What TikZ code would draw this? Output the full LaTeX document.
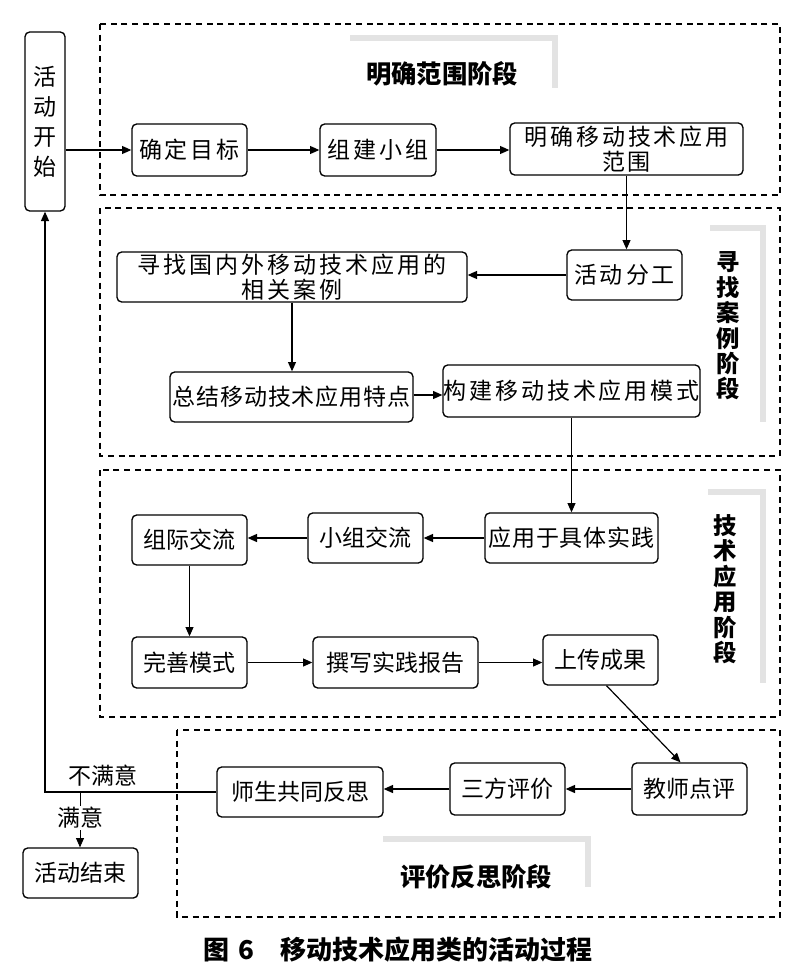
\documentclass[tikz,border=0pt]{standalone}
\usepackage{fontspec}
\setmainfont{Noto Sans CJK SC}
\newfontfamily\cjkw{Noto Sans CJK SC}[LetterSpace=13]
\newfontfamily\cjkm{Noto Sans CJK SC}[LetterSpace=4]
\usetikzlibrary{arrows.meta,calc}
\tikzset{
  box/.style={draw, line width=1pt, rounded corners=3.5pt, inner sep=0pt, align=center,
    font=\fontsize{17.25pt}{18.75pt}\selectfont},
  wide/.style={font=\cjkw\fontsize{17.25pt}{18.75pt}\selectfont},
  mid/.style={font=\cjkm\fontsize{17.25pt}{18.75pt}\selectfont},
  arr/.style={-{Triangle[length=7pt,width=6pt]}, line width=0.9pt},
  stage/.style={draw, dash pattern=on 4.5pt off 3.5pt, line width=0.9pt},
  ttl/.style={font=\fontsize{19pt}{20pt}\selectfont\bfseries, align=center, inner sep=0pt},
  vttl/.style={font=\fontsize{17.5pt}{19.1pt}\selectfont\bfseries, align=center, inner sep=0pt},
  shd/.style={draw=gray!22, line width=4.5pt},
  lbl/.style={font=\fontsize{17.25pt}{18.75pt}\selectfont, inner sep=1pt}
}
\begin{document}
\begin{tikzpicture}[x=0.75pt,y=-0.75pt]
\useasboundingbox (0,0) rectangle (800,971);

% title shadows (scan)
\draw[shd] (350,38) -- (555,38) -- (555,88);
\draw[shd] (710,228) -- (763,228) -- (763,422);
\draw[shd] (708,492) -- (763,492) -- (763,683);
\draw[shd] (383,839) -- (588,839) -- (588,887);

% stage frames
\draw[stage] (100,24) rectangle (780,195);
\draw[stage] (100,208) rectangle (780,456);
\draw[stage] (100,470) rectangle (780,717);
\draw[stage] (177,730) rectangle (780,917);

% stage titles
\node[ttl] (t1) at (442,74) {明确范围阶段};
\node[vttl] (t2) at (728,326) {寻\\找\\案\\例\\阶\\段};
\node[vttl] (t3) at (725,589) {技\\术\\应\\用\\阶\\段};
\node[ttl] (t4) at (476,877) {评价反思阶段};

% nodes
\node[box, font=\fontsize{17.25pt}{22.5pt}\selectfont, minimum width=30pt, minimum height=134.25pt] (start) at (45,121.5) {活\\动\\开\\始};
\node[box, wide, minimum width=86.25pt, minimum height=39pt] (n1) at (189.5,150) {确定目标};
\node[box, wide, minimum width=87pt, minimum height=39pt] (n2) at (378,150) {组建小组};
\node[box, wide, minimum width=174.75pt, minimum height=39pt] (n3) at (626.5,149) {明确移动技术应用\\范围};
\node[box, wide, minimum width=86.25pt, minimum height=37.5pt] (n4) at (624.5,275) {活动分工};
\node[box, wide, minimum width=262.5pt, minimum height=37.5pt] (n5) at (292,277) {寻找国内外移动技术应用的\\相关案例};
\node[box, mid, minimum width=182.25pt, minimum height=37.5pt] (n6) at (291.5,397) {总结移动技术应用特点};
\node[box, wide, minimum width=182.25pt, minimum height=39pt] (n7) at (571.5,391) {构建移动技术应用模式};
\node[box, mid, minimum width=129.75pt, minimum height=37.5pt] (n8) at (571.5,538) {应用于具体实践};
\node[box, minimum width=86.25pt, minimum height=37.5pt] (n9) at (365.5,538) {小组交流};
\node[box, minimum width=86.25pt, minimum height=37.5pt] (n10) at (189.5,540) {组际交流};
\node[box, minimum width=86.25pt, minimum height=38.25pt] (n11) at (189.5,662.5) {完善模式};
\node[box, minimum width=123.75pt, minimum height=38.25pt] (n12) at (395.5,662.5) {撰写实践报告};
\node[box, minimum width=86.25pt, minimum height=37.5pt] (n13) at (600.5,660) {上传成果};
\node[box, minimum width=86.25pt, minimum height=39pt] (n14) at (689.5,789) {教师点评};
\node[box, minimum width=86.25pt, minimum height=39pt] (n15) at (507.5,789) {三方评价};
\node[box, minimum width=124.5pt, minimum height=37.5pt] (n16) at (300,792) {师生共同反思};
\node[box, minimum width=86.25pt, minimum height=37.5pt] (n17) at (80.5,873) {活动结束};

% connectors
\draw[arr] (start.east |- n1.west) -- (n1.west);
\draw[arr] (n1) -- (n2);
\draw[arr] (n2) -- (n2 -| n3.west);
\draw[arr] (n3.south) -- (n3.south |- n4.north);
\draw[arr] (n4.west) -- (n4.west -| n5.east);
\draw[arr] (n5.south) -- (n5.south |- n6.north);
\coordinate (a67) at ($(n6.east)+(0,-2)$);
\draw[arr] (a67) -- (a67 -| n7.west);
\draw[arr] (n7.south) -- (n7.south |- n8.north);
\draw[arr] (n8) -- (n9);
\draw[arr] (n9.west) -- (n9.west -| n10.east);
\draw[arr] (n10) -- (n11);
\draw[arr] (n11) -- (n12);
\draw[arr] (n12.east) -- (n12.east -| n13.west);
\coordinate (a1314s) at ($(n13.south)+(6,0)$);
\coordinate (a1314e) at ($(n14.north)+(-9,0)$);
\draw[arr] (a1314s) -- (a1314e);
\draw[arr] (n14) -- (n15);
\draw[arr] (n15.west) -- (n15.west -| n16.east);
\coordinate (fb) at (45,792);
\coordinate (sp) at (80,792);
\draw[arr] (n16.west) -- (fb) -- (start.south);
\draw[arr, line width=0.6pt] (sp) -- (sp |- n17.north);
\node[lbl] (no) at (103,776) {不满意};
\node[lbl, fill=white] (yes) at (80,818) {满意};

% caption
\node[font=\fontsize{19.5pt}{20pt}\selectfont\bfseries, inner sep=0pt] (cap) at (398,950) {图\,\,6\quad 移动技术应用类的活动过程};
\end{tikzpicture}
\end{document}
